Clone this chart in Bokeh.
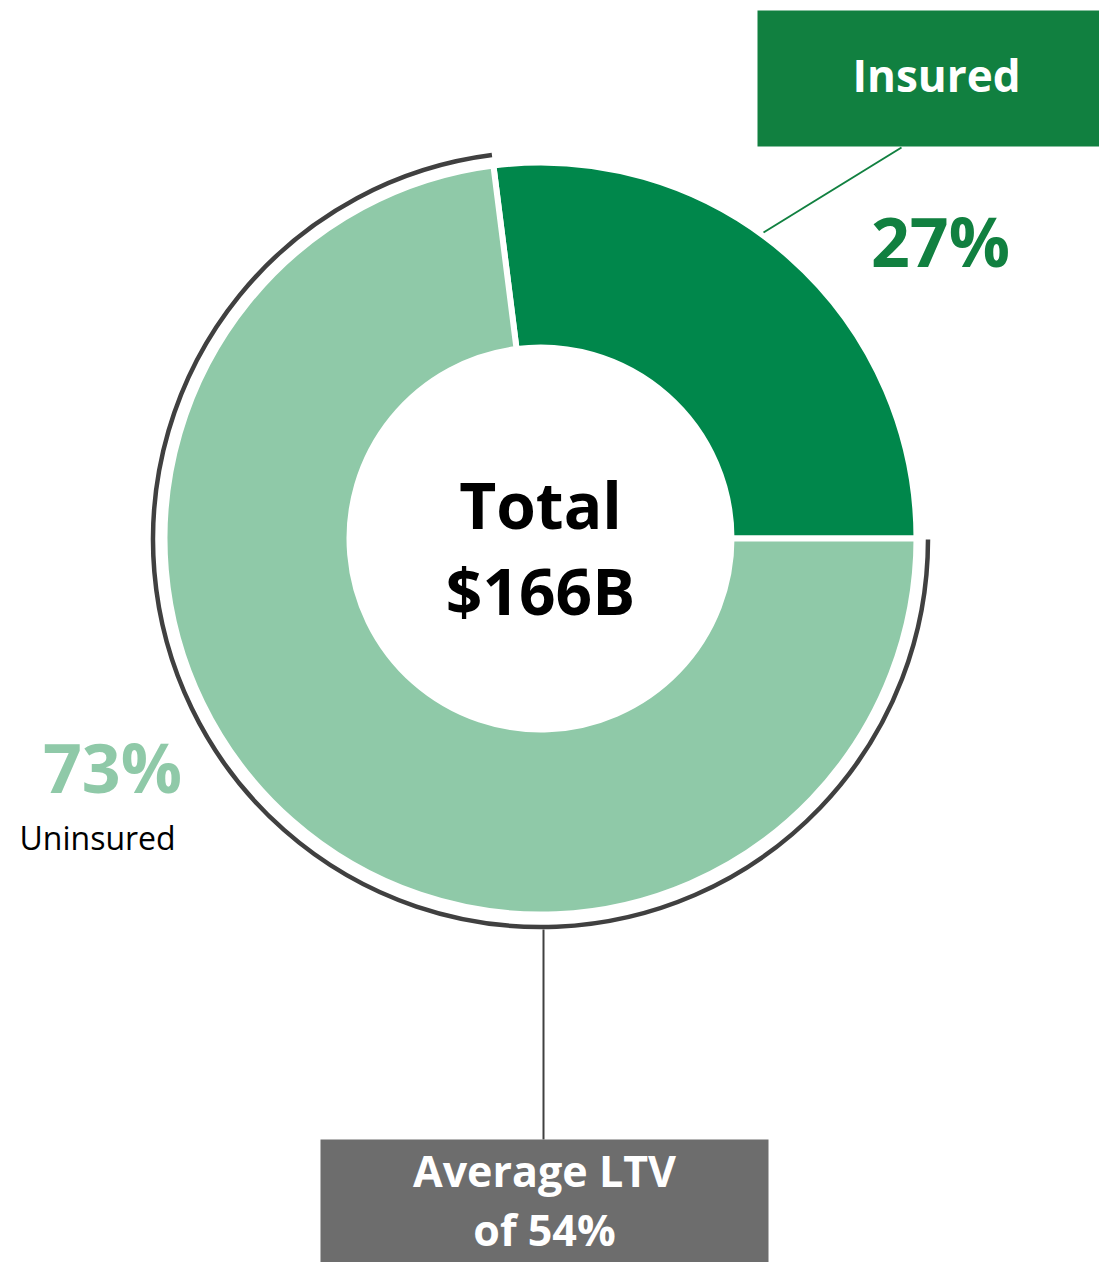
import math
from bokeh.plotting import figure
from bokeh.models import Range1d
from bokeh.core.properties import value
from bokeh.embed import file_html
from bokeh.resources import INLINE

# ---- data ----
categories = ["Insured", "Uninsured"]
shares = [27, 73]
share_labels = ["27%", "73%"]
slice_colors = ["#00874B", "#8FC9A8"]
total_label = ["Total", "$166B"]
ltv_label = ["Average LTV", "of 54%"]

W, H = 1099, 1262
def Y(py):
    return H - py

FONT = value("Open Sans")

p = figure(width=W, height=H, output_backend="svg", toolbar_location=None,
           x_range=Range1d(0, W), y_range=Range1d(0, H),
           min_border=0, outline_line_color=None)
p.axis.visible = False
p.grid.visible = False
p.background_fill_color = "white"
p.border_fill_color = "white"

cx, cy = 540, Y(538)
r_in, r_out = 191, 376

# wedges
total = sum(shares)
starts, ends = [], []
acc = 0.0
for s in shares:
    starts.append(2 * math.pi * acc / total)
    acc += s
    ends.append(2 * math.pi * acc / total)

p.annular_wedge(x=cx, y=cy, inner_radius=r_in, outer_radius=r_out,
                start_angle=starts, end_angle=ends, direction="anticlock",
                fill_color=slice_colors, line_color="white", line_width=6)

# ring around uninsured portion
p.arc(x=cx, y=Y(539), radius=387.5, start_angle=starts[1], end_angle=ends[1],
      direction="anticlock", line_color="#404040", line_width=4.5)

# insured callout box
p.quad(left=757, right=1110, top=Y(10), bottom=Y(146), fill_color="#118040", line_color=None)
p.text(x=[936], y=[Y(74)], text=[categories[0]], text_color="white",
       text_font=FONT, text_font_style="bold", text_font_size="44px",
       text_align="center", text_baseline="middle")
p.segment(x0=901, y0=Y(147), x1=763, y1=Y(232), line_color="#118040", line_width=2)
p.text(x=[940], y=[Y(240)], text=[share_labels[0]], text_color="#118040",
       text_font=FONT, text_font_style="bold", text_font_size="68px",
       text_align="center", text_baseline="middle")

# uninsured label
p.text(x=[112], y=[Y(766)], text=[share_labels[1]], text_color=slice_colors[1],
       text_font=FONT, text_font_style="bold", text_font_size="68px",
       text_align="center", text_baseline="middle")
p.text(x=[19], y=[Y(837)], text=[categories[1]], text_color="black",
       text_font=FONT, text_font_size="32px",
       text_align="left", text_baseline="middle")

# center text
p.text(x=[540, 540], y=[Y(504), Y(590)], text=total_label, text_color="black",
       text_font=FONT, text_font_style="bold", text_font_size="64px",
       text_align="center", text_baseline="middle")

# LTV box
p.segment(x0=543, y0=Y(929), x1=543, y1=Y(1139), line_color="#404040", line_width=2)
p.quad(left=320, right=768, top=Y(1139), bottom=Y(1275), fill_color="#6D6D6D", line_color=None)
p.text(x=[544, 544], y=[Y(1170), Y(1229)], text=ltv_label, text_color="white",
       text_font=FONT, text_font_style="bold", text_font_size="43px",
       text_align="center", text_baseline="middle")

open("out.html", "w").write(file_html(p, INLINE))
